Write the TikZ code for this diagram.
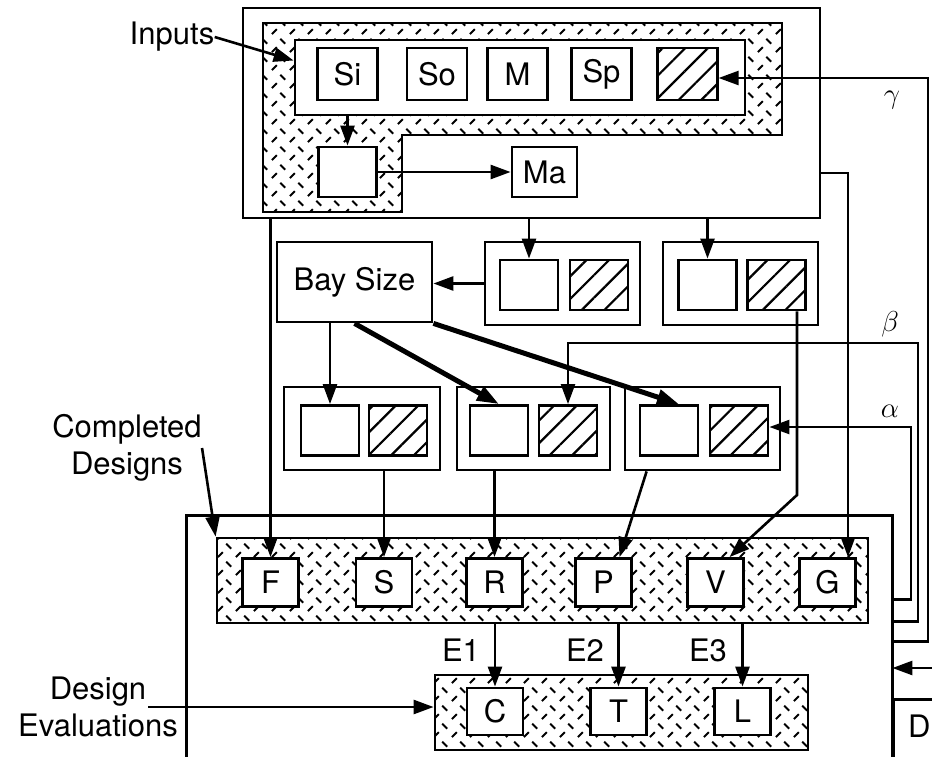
\documentclass[tikz,border=0pt]{standalone}
\usepackage{fontspec}
\setmainfont{TeX Gyre Heros}
\usepackage{tikz}
\usetikzlibrary{arrows.meta, fit, patterns.meta}

\pgfdeclarepattern{
	name=speckle,
	type=uncolored,
	bottom left={\pgfpoint{0pt}{0pt}},
	top right={\pgfpoint{9pt}{9pt}},
	tile size={\pgfpoint{9pt}{9pt}},
	code={
		\pgfsetlinewidth{1pt}
		\pgfpathmoveto{\pgfpoint{1pt}{1pt}}
		\pgfpathlineto{\pgfpoint{3.6pt}{3.6pt}}
		\pgfpathmoveto{\pgfpoint{5.4pt}{8pt}}
		\pgfpathlineto{\pgfpoint{8pt}{5.4pt}}
		\pgfusepath{stroke}
	}
}

\begin{document}
\begin{tikzpicture}[x=0.5pt, y=-0.5pt,
		txt/.style={font=\fontsize{15.5}{18.5}\selectfont, inner sep=0pt},
		frame/.style={draw, line width=1.4pt, fill=white, inner sep=0pt},
		cell/.style={frame, txt, minimum width=29pt, minimum height=25pt},
		slash/.style={cell, preaction={fill=white}, pattern={Lines[angle=45,distance=8pt,line width=1.1pt]}},
		band/.style={draw, line width=1.4pt, preaction={fill=white}, pattern=speckle, inner sep=0pt},
		arr/.style={-{Triangle[length=10pt,width=7pt]}, line width=1.3pt},
		fat/.style={-{Triangle[length=11pt,width=7.5pt]}, line width=2.5pt},
		wire/.style={line width=1.2pt}]
	\useasboundingbox (0,0) rectangle (932,756);

	% inputs
	\node[frame, fit={(243,8) (820,218)}] (top) {};
	\draw[band] (263,23) -- (782,23) -- (782,135) -- (402,135) -- (402,212) -- (263,212) -- cycle;
	\node[frame, fit={(295,40) (745,115)}] (inbox) {};
	\node[cell, minimum width=30pt, minimum height=26pt] (Si) at (347.5,74) {Si};
	\node[cell, minimum width=30pt, minimum height=26pt] (So) at (437,74) {So};
	\node[cell, minimum width=30pt, minimum height=26pt] (M) at (517.5,74) {M};
	\node[cell, minimum width=30pt, minimum height=26pt] (Sp) at (601.5,74) {Sp};
	\node[slash, minimum width=30pt, minimum height=26pt] (gin) at (687.5,74) {};
	\node[cell] (sel) at (347.5,172) {};
	\node[cell, minimum width=32.5pt] (Ma) at (544.5,172) {Ma};
	\node[txt] (inp) at (172,37) {Inputs};
	\draw[arr] (inp.east) -- ([yshift=8.5pt]inbox.west);
	\draw[arr] (inbox.south -| sel.north) -- (sel.north);
	\draw[arr] (sel.east) -- (Ma.west);

	% bay size and first pairs
	\node[frame, txt, minimum width=77.5pt, minimum height=40pt] (bay) at (354.5,282) {Bay Size};
	\node[frame, fit={(485,242) (640,325)}] (pA) {};
	\node[cell] (a1) at (529,285) {};
	\node[slash] (a2) at (599,285) {};
	\node[frame, fit={(663,242) (818,325)}] (pB) {};
	\node[cell] (b1) at (707.5,285) {};
	\node[slash] (b2) at (776.5,285) {};
	\draw[arr] (top.south -| a1.north) -- (a1.north);
	\draw[arr] (top.south -| b1.north) -- (b1.north);
	\draw[arr] (pA.west) -- (pA.west -| bay.east);

	% second pairs
	\node[frame, fit={(284,387) (440,470)}] (pC) {};
	\node[cell] (c1) at (330,430.5) {};
	\node[slash] (c2) at (398,430.5) {};
	\node[frame, fit={(457,387) (610,470)}] (pD) {};
	\node[cell] (d1) at (499,430.5) {};
	\node[slash] (d2) at (568,430.5) {};
	\node[frame, fit={(625,387) (780,470)}] (pE) {};
	\node[cell] (e1) at (669,430.5) {};
	\node[slash] (e2) at (739,430.5) {};
	\draw[arr] (bay.south -| c1.north) -- (c1.north);
	\draw[fat] (bay.south) -- (d1.north);
	\draw[fat] (bay.south east) -- ([xshift=5pt]e1.north);

	% completed designs
	\node[fit={(187,516) (892,780)}, inner sep=0pt] (cd) {};
	\draw[line width=1.4pt] (cd.south west) |- (cd.north east) -- (cd.south east);
	\node[band, fit={(217,538) (868,623)}] (fband) {};
	\node[cell, minimum width=28pt, minimum height=24pt] (F) at (270.5,582.5) {F};
	\node[cell, minimum width=28pt, minimum height=24pt] (S) at (384,582.5) {S};
	\node[cell, minimum width=28pt, minimum height=24pt] (R) at (494.5,582.5) {R};
	\node[cell, minimum width=28pt, minimum height=24pt] (P) at (603.5,582.5) {P};
	\node[cell, minimum width=28pt, minimum height=24pt] (V) at (715.5,582.5) {V};
	\node[cell, minimum width=28pt, minimum height=24pt] (G) at (827.5,582.5) {G};
	\node[txt, align=center] (cdes) at (127,448) {Completed\\Designs};
	\draw[arr] (cdes.east) -- (fband.north west);

	\draw[arr] (top.south -| F.north) -- (F.north);
	\draw[arr] (pC.south -| S.north) -- (S.north);
	\draw[arr] (pD.south -| R.north) -- (R.north);
	\draw[arr] ([xshift=11.5pt]pE.south west) -- ([xshift=8pt]P.north);
	\coordinate (vbend) at (797,495);
	\draw[arr] (vbend |- b2.south) -- (vbend) -- ([xshift=7pt]V.north);
	\coordinate (gtap) at (848,173);
	\draw[arr] (gtap -| top.east) -- (gtap) -- (gtap |- G.north);

	% evaluations
	\node[band, fit={(435,675) (808,750)}] (cband) {};
	\node[cell, minimum width=28pt, minimum height=23.5pt] (C) at (495,711.5) {C};
	\node[cell, minimum width=28pt, minimum height=23.5pt] (T) at (618.5,711.5) {T};
	\node[cell, minimum width=28pt, minimum height=23.5pt] (L) at (742.5,711.5) {L};
	\draw[arr] (fband.south -| C.north) -- (C.north);
	\draw[arr] (fband.south -| T.north) -- (T.north);
	\draw[arr] (fband.south -| L.north) -- (L.north);
	\node[txt] (E1) at (461,650) {E1};
	\node[txt] (E2) at (585,650) {E2};
	\node[txt] (E3) at (708,650) {E3};
	\node[txt, align=center] (deval) at (98,707) {Design\\Evaluations};
	\draw[arr] ([xshift=-15pt]deval.east) -- (deval -| cband.west);

	% feedback lines
	\coordinate (alpha) at (911,427);
	\coordinate (beta) at (918,343);
	\coordinate (gamma) at (928,78);
	\draw[arr, wire] ([yshift=-42pt]cd.north east) -| (alpha) -- (alpha -| e2.east);
	\draw[arr, wire] ([yshift=-53pt]cd.north east) -| (beta) -| (d2.north);
	\draw[arr, wire] ([yshift=-63pt]cd.north east) -| (gamma) -- (gamma -| gin.east);
	\node[txt] (al) at (890,411) {$\alpha$};
	\node[txt] (be) at (890,324) {$\beta$};
	\node[txt] (ga) at (892,100) {$\gamma$};

	% D
	\node[draw, line width=1.4pt, txt, anchor=north west, minimum width=26pt, minimum height=50pt, text depth=23pt] (dbox) at (892,698) {D};
	\coordinate (dsrc) at (945,668);
	\draw[arr] (dsrc) -- (dsrc -| cd.east);
\end{tikzpicture}
\end{document}
